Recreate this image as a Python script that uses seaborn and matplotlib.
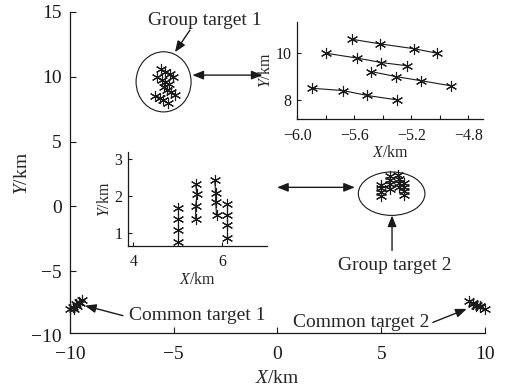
import matplotlib
matplotlib.use("Agg")
import matplotlib.pyplot as plt
import numpy as np
import pandas as pd
import seaborn as sns
from matplotlib.patches import Ellipse
from matplotlib.ticker import MultipleLocator

# Group target 1: four tracks, four scans each (km)
g1_x = [[-5.62, -5.42, -5.18, -5.02],
        [-5.80, -5.58, -5.41, -5.23],
        [-5.48, -5.31, -5.13, -4.92],
        [-5.90, -5.68, -5.51, -5.30]]
g1_y = [[10.60, 10.40, 10.19, 10.00],
        [10.00, 9.79, 9.60, 9.46],
        [9.21, 9.00, 8.82, 8.60],
        [8.50, 8.40, 8.19, 8.00]]

# Group target 2: four tracks, four scans each (km)
g2_x = [[5.00, 5.00, 5.00, 5.00],
        [5.40, 5.43, 5.40, 5.40],
        [5.83, 5.85, 5.85, 5.87],
        [6.10, 6.10, 6.10, 6.10]]
g2_y = [[1.68, 1.39, 1.08, 0.77],
        [2.32, 2.05, 1.73, 1.38],
        [2.43, 2.09, 1.84, 1.50],
        [1.79, 1.50, 1.21, 0.88]]

# Common targets: two tracks each
c1_x = [[-9.98, -9.84, -9.70, -9.56], [-9.82, -9.68, -9.54, -9.42]]
c1_y = [[-7.95, -7.75, -7.55, -7.35], [-7.88, -7.66, -7.45, -7.22]]
c2_x = [[9.24, 9.42, 9.60, 9.78], [9.40, 9.58, 9.78, 9.98]]
c2_y = [[-7.33, -7.45, -7.58, -7.72], [-7.55, -7.66, -7.80, -7.95]]

main_xticks = [-10, -5, 0, 5, 10]
main_yticks = [-10, -5, 0, 5, 10, 15]
in1_xticks = [-6.0, -5.6, -5.2, -4.8]
in1_yticks = [8, 10]
in2_xticks = [4, 6]
in2_yticks = [1, 2, 3]


def tracks_frame(xs, ys, tag):
    rows = []
    for i, (tx, ty) in enumerate(zip(xs, ys)):
        for x, y in zip(tx, ty):
            rows.append({"x": x, "y": y, "track": f"{tag}{i}"})
    return pd.DataFrame(rows)


g1 = tracks_frame(g1_x, g1_y, "g1_")
g2 = tracks_frame(g2_x, g2_y, "g2_")
c1 = tracks_frame(c1_x, c1_y, "c1_")
c2 = tracks_frame(c2_x, c2_y, "c2_")

sns.set_theme(style="ticks")
plt.rcParams["font.family"] = ["Liberation Serif", "DejaVu Serif"]
plt.rcParams["mathtext.fontset"] = "custom"
plt.rcParams["mathtext.rm"] = "Liberation Serif"
plt.rcParams["mathtext.it"] = "Liberation Serif:italic"
plt.rcParams["axes.unicode_minus"] = True

STAR = (6, 2, 0)
line_kw = dict(estimator=None, sort=False, color="k", lw=0.8, marker=STAR,
               markersize=8, markeredgewidth=0.8, markeredgecolor="k",
               legend=False)


def draw_tracks(ax, df):
    sns.lineplot(data=df, x="x", y="y", units="track", ax=ax, **line_kw)


def style_axes(ax, size, pad_x, pad_y, length=4):
    for s in ("top", "right"):
        ax.spines[s].set_visible(False)
    for s in ("left", "bottom"):
        ax.spines[s].set_linewidth(0.9)
        ax.spines[s].set_color("k")
    ax.tick_params(axis="both", direction="in", length=length, width=0.8,
                   colors="k", labelsize=size)
    ax.tick_params(axis="x", pad=pad_x)
    ax.tick_params(axis="y", pad=pad_y)
    ax.set_xlabel("")
    ax.set_ylabel("")


fig = plt.figure(figsize=(5.06, 3.92), dpi=100)
fig.patch.set_facecolor("white")

# ---- main panel ----
ax = fig.add_axes([0.1383, 0.1429, 0.8202, 0.8265])
ax.set_facecolor("none")
for df in (g1, g2, c1, c2):
    draw_tracks(ax, df)
for ln in ax.lines:
    ln.set_clip_on(False)
ax.set_xlim(-10, 10)
ax.set_ylim(-10, 15)
ax.set_xticks(main_xticks)
ax.set_yticks(main_yticks)
style_axes(ax, 14, 9, 6)
ax.spines["bottom"].set_position(("data", -9.8))
ax.spines["left"].set_bounds(-9.8, 15)
ax.yaxis.get_major_ticks()[0].tick1line.set_visible(False)
ax.set_xlabel("$X$/km", fontsize=14, labelpad=5)
ax.set_ylabel("$Y$/km", fontsize=14, labelpad=0)

ax.add_patch(Ellipse((-5.49, 9.61), 2.65, 4.64, fill=False, lw=0.8, ec="k"))
ax.add_patch(Ellipse((5.50, 0.98), 3.21, 3.35, fill=False, lw=0.8, ec="k"))

one_way = dict(arrowstyle="-|>,head_length=0.55,head_width=0.22",
               color="k", lw=1.0, shrinkA=0, shrinkB=0)
two_way = dict(arrowstyle="<|-|>,head_length=0.55,head_width=0.22",
               color="k", lw=1.0, shrinkA=0, shrinkB=0)

ax.annotate("", xy=(-4.94, 11.9), xytext=(-4.22, 13.6), arrowprops=one_way)
ax.annotate("", xy=(5.52, -0.70), xytext=(5.52, -3.40), arrowprops=one_way)
ax.annotate("", xy=(-9.28, -7.66), xytext=(-7.45, -8.43), arrowprops=one_way,
            annotation_clip=False)
ax.annotate("", xy=(9.12, -7.91), xytext=(7.49, -8.95), arrowprops=one_way,
            annotation_clip=False)
ax.annotate("", xy=(-0.72, 10.13), xytext=(-4.10, 10.13), arrowprops=two_way)
ax.annotate("", xy=(3.73, 1.47), xytext=(-0.02, 1.47), arrowprops=two_way)

ax.text(-3.49, 14.38, "Group target 1", fontsize=14, ha="center", va="center")
ax.text(5.66, -4.56, "Group target 2", fontsize=14, ha="center", va="center")
ax.text(-3.86, -8.43, "Common target 1", fontsize=14, ha="center", va="center")
ax.text(4.02, -8.95, "Common target 2", fontsize=14, ha="center", va="center")

# ---- inset: group target 1 ----
ax1 = fig.add_axes([0.5876, 0.6957, 0.3664, 0.249])
ax1.set_facecolor("none")
draw_tracks(ax1, g1)
ax1.set_xlim(-6.0, -4.7)
ax1.set_ylim(7.17, 11.35)
ax1.set_xticks(in1_xticks)
ax1.set_xticklabels([f"{v:.1f}".replace("-", "\u2212") for v in in1_xticks])
ax1.xaxis.set_minor_locator(MultipleLocator(0.2))
ax1.set_yticks(in1_yticks)
style_axes(ax1, 11.5, 6, 4, length=3)
ax1.tick_params(which="minor", direction="in", length=3, width=0.8, colors="k")
ax1.set_xlabel("$X$/km", fontsize=11.5, labelpad=1)
ax1.set_ylabel("$Y$/km", fontsize=11.5, labelpad=1)

# ---- inset: group target 2 ----
ax2 = fig.add_axes([0.2524, 0.3724, 0.2747, 0.2398])
ax2.set_facecolor("none")
draw_tracks(ax2, g2)
ax2.set_xlim(3.87, 7.0)
ax2.set_ylim(0.65, 3.2)
ax2.set_xticks(in2_xticks)
ax2.set_yticks(in2_yticks)
style_axes(ax2, 11.5, 6, 4, length=3)
ax2.set_xlabel("$X$/km", fontsize=11.5, labelpad=1)
ax2.set_ylabel("$Y$/km", fontsize=11.5, labelpad=1)

fig.savefig("out.png", dpi=100, facecolor="white")
